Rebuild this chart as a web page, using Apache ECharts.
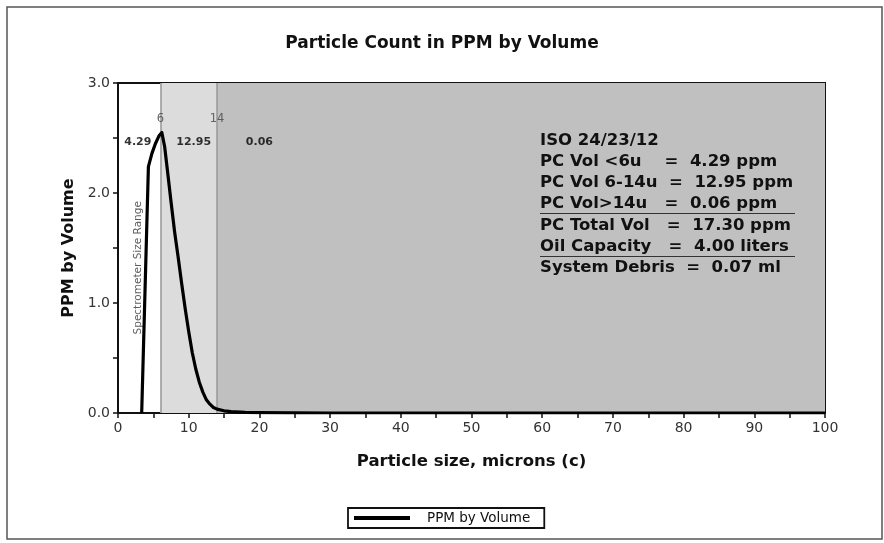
<!DOCTYPE html>
<html><head><meta charset="utf-8">
<script src="https://cdn.jsdelivr.net/npm/echarts@6/dist/echarts.min.js"></script>
<style>html,body{margin:0;padding:0;background:#fff}#c{width:884px;height:543px}</style>
</head><body><div id="c"></div>
<script>
// Particle size (microns) and PPM by volume
const sizes = [3.35, 4.3, 4.8, 5.3, 5.8, 6.2, 6.6, 7.0, 7.5, 8.0, 8.5, 9.0, 9.5, 10.0, 10.5, 11.0, 11.5, 12.0, 12.5, 13.0, 13.5, 14.0, 15, 16, 18, 20, 25, 30, 40, 60, 80, 100];
const ppm   = [0.0, 2.24, 2.36, 2.45, 2.52, 2.55, 2.42, 2.20, 1.92, 1.65, 1.42, 1.18, 0.95, 0.74, 0.55, 0.40, 0.28, 0.19, 0.12, 0.08, 0.05, 0.035, 0.02, 0.012, 0.006, 0.003, 0.001, 0.0, 0.0, 0.0, 0.0, 0.0];
const bandEdges = [6, 14];
const bandEdgeLabels = ['6', '14'];
const bandValues = ['4.29', '12.95', '0.06'];
const bandValueX = [2.8, 10.7, 20];
const summaryLines = [
  'ISO 24/23/12',
  'PC Vol <6u    =  4.29 ppm',
  'PC Vol 6-14u  =  12.95 ppm',
  'PC Vol>14u   =  0.06 ppm',
  'PC Total Vol   =  17.30 ppm',
  'Oil Capacity   =  4.00 liters',
  'System Debris  =  0.07 ml'
];

const FONT = 'DejaVu Sans';
const chart = echarts.init(document.getElementById('c'), null, {renderer: 'canvas'});

const lineData = sizes.map((s, i) => [s, ppm[i]]);

const graphics = [
  {type: 'rect', shape: {x: 7, y: 7, width: 875, height: 532}, style: {fill: 'none', stroke: '#555', lineWidth: 1.5}, z: 100}
];
summaryLines.forEach((t, i) => {
  graphics.push({type: 'text', left: 540, top: 132 + i * 21.2, style: {text: t, font: 'bold 16.5px ' + FONT, fill: '#111'}, z: 50});
});
graphics.push({type: 'line', shape: {x1: 540, y1: 213.5, x2: 795, y2: 213.5}, style: {stroke: '#333', lineWidth: 1.2}, z: 50});
graphics.push({type: 'line', shape: {x1: 540, y1: 256.5, x2: 795, y2: 256.5}, style: {stroke: '#333', lineWidth: 1.2}, z: 50});

chart.setOption({
  animation: false,
  backgroundColor: '#fff',
  title: {
    text: 'Particle Count in PPM by Volume', left: 'center', top: 30,
    textStyle: {fontFamily: FONT, fontSize: 17, fontWeight: 'bold', color: '#111'}
  },
  grid: {left: 118, right: 59, top: 83, bottom: 130, show: true, backgroundColor: '#fff', borderColor: '#111', borderWidth: 2},
  legend: {
    bottom: 15, left: 348, data: ['PPM by Volume'],
    borderColor: '#111', borderWidth: 1.8, padding: [3, 14, 3, 6],
    icon: 'rect', itemWidth: 56, itemHeight: 4, itemGap: 10,
    textStyle: {fontFamily: FONT, fontSize: 13.5, color: '#111', padding: [0, 0, 0, 12]}
  },
  xAxis: {
    type: 'value', min: 0, max: 100, interval: 10,
    name: 'Particle size, microns (c)', nameLocation: 'middle', nameGap: 40,
    nameTextStyle: {fontFamily: FONT, fontSize: 16.5, fontWeight: 'bold', color: '#111'},
    axisLine: {show: true, lineStyle: {color: '#111', width: 2}},
    axisTick: {show: true, length: 5, lineStyle: {color: '#111', width: 1.5}},
    minorTick: {show: true, splitNumber: 2, length: 5, lineStyle: {color: '#111', width: 1.5}},
    axisLabel: {fontFamily: FONT, fontSize: 14, color: '#333', margin: 8},
    splitLine: {show: false}
  },
  yAxis: {
    type: 'value', min: 0, max: 3, interval: 1,
    name: 'PPM by Volume', nameLocation: 'middle', nameGap: 40,
    nameTextStyle: {fontFamily: FONT, fontSize: 16, fontWeight: 'bold', color: '#111'},
    axisLine: {show: true, lineStyle: {color: '#111', width: 2}},
    axisTick: {show: true, length: 5, lineStyle: {color: '#111', width: 1.5}},
    minorTick: {show: true, splitNumber: 2, length: 5, lineStyle: {color: '#111', width: 1.5}},
    axisLabel: {fontFamily: FONT, fontSize: 14, color: '#333', margin: 8, formatter: v => v.toFixed(1)},
    splitLine: {show: false}
  },
  series: [
    {
      name: 'PPM by Volume', type: 'line', data: lineData, smooth: false, showSymbol: false,
      lineStyle: {color: '#000', width: 3.2, join: 'round'}, itemStyle: {color: '#000'}, z: 5,
      markArea: {
        silent: true,
        data: [
          [{xAxis: bandEdges[0], itemStyle: {color: '#dcdcdc'}}, {xAxis: bandEdges[1]}],
          [{xAxis: bandEdges[1], itemStyle: {color: '#c0c0c0'}}, {xAxis: 100}]
        ]
      },
      markLine: {
        silent: true, symbol: 'none', label: {show: false},
        lineStyle: {color: '#999', width: 1.5, type: 'solid'},
        data: bandEdges.map(e => ({xAxis: e}))
      }
    },
    {
      type: 'scatter', symbolSize: 0, silent: true, z: 6,
      data: bandEdges.map((e, i) => ({value: [e, 2.67], label: {formatter: bandEdgeLabels[i]}})),
      label: {show: true, position: 'inside', fontFamily: FONT, fontSize: 11.5, color: '#444'}
    },
    {
      type: 'scatter', symbolSize: 0, silent: true, z: 6,
      data: bandValueX.map((x, i) => ({value: [x, 2.465], label: {formatter: bandValues[i]}})),
      label: {show: true, position: 'inside', fontFamily: FONT, fontSize: 11, fontWeight: 'bold', color: '#000'}
    },
    {
      type: 'scatter', symbolSize: 0, silent: true, z: 4,
      data: [{value: [2.85, 1.32]}],
      label: {show: true, position: 'inside', rotate: 90, formatter: 'Spectrometer Size Range', fontFamily: FONT, fontSize: 10.5, color: '#333'}
    }
  ],
  graphic: graphics
});
</script></body></html>
